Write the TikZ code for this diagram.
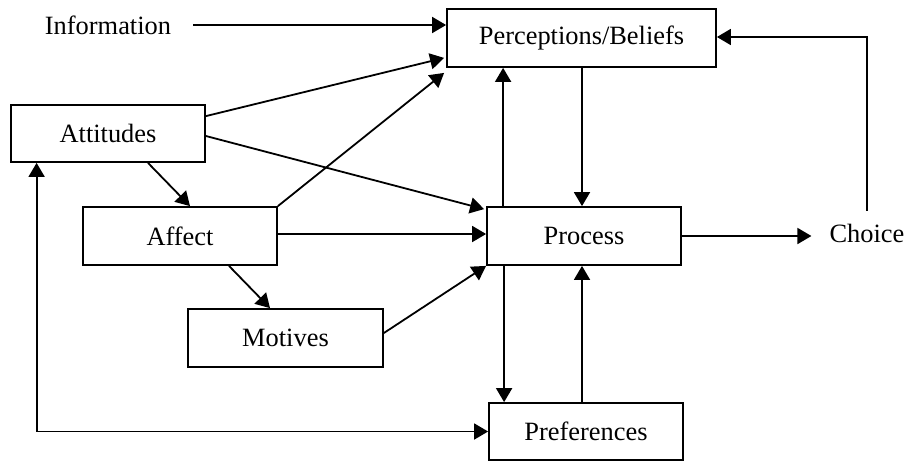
\documentclass[tikz,border=0pt]{standalone}
\usepackage{fontspec}
\setmainfont{Liberation Serif}
\usetikzlibrary{arrows.meta}
\begin{document}
\begin{tikzpicture}[x=1pt,y=-1pt,
  every node/.style={font=\fontsize{26.4}{30}\selectfont},
  box/.style={draw,line width=1.8pt,minimum width=194pt,minimum height=57pt,inner sep=0pt},
  lbl/.style={inner sep=0pt},
  arr/.style={line width=1.8pt,-{Triangle[length=14pt,width=16pt]}},
  arr2/.style={line width=1.8pt,{Triangle[length=14pt,width=16pt]}-{Triangle[length=14pt,width=16pt]}}]
\useasboundingbox (0,0) rectangle (909,461);
\node[box,minimum width=269pt,minimum height=58pt] (perc) at (581.5,38) {Perceptions/Beliefs};
\node[box] (att) at (108,133.5) {Attitudes};
\node[box,minimum height=58pt] (aff) at (180,236) {Affect};
\node[box,minimum height=58pt] (proc) at (584,236) {Process};
\node[box,minimum width=195pt,minimum height=58pt] (mot) at (285.5,338) {Motives};
\node[box] (pref) at (586,431.5) {Preferences};
\node[lbl] (info) at (108,25) {Information};
\node[lbl] (choice) at (867,233) {Choice};

\draw[arr] ([xshift=22pt]info.east) -- (info -| perc.west);
\draw[arr] ([yshift=-12pt]att.north east) -- ([shift={(-2pt,10pt)}]perc.south west);
\draw[arr] ([yshift=-2.5pt]att.east) -- ([shift={(-2pt,-3pt)}]proc.north west);
\draw[arr] ([xshift=40pt]att.south) -- ([xshift=10pt]aff.north);
\draw[arr] (aff.north east) -- ([shift={(-2pt,-5pt)}]perc.south west);
\draw[arr] ([yshift=2pt]aff.east) -- ([yshift=2pt]aff.east -| proc.west);
\draw[arr] ([xshift=49pt]aff.south) -- ([xshift=-15.5pt]mot.north);
\draw[arr] ([yshift=5pt]mot.east) -- (proc.south west);
\draw[arr] ([xshift=17pt]proc.north west) -- ([xshift=17pt]proc.north west |- perc.south);
\draw[arr] ([xshift=0.5pt]perc.south) -- ([xshift=0.5pt]perc.south |- proc.north);
\draw[arr] (proc.east) -- ([xshift=-18pt]choice.west |- proc.east);
\draw[arr] ([yshift=13pt]choice.north) |- ([yshift=1pt]perc.east);
\draw[arr] ([xshift=18pt]proc.south west) -- ([xshift=18pt]proc.south west |- pref.north);
\draw[arr] ([xshift=-4pt]pref.north) -- ([xshift=-4pt]pref.north |- proc.south);
\draw[arr2] ([xshift=26.5pt]att.south west) |- (pref.west);
\end{tikzpicture}
\end{document}
